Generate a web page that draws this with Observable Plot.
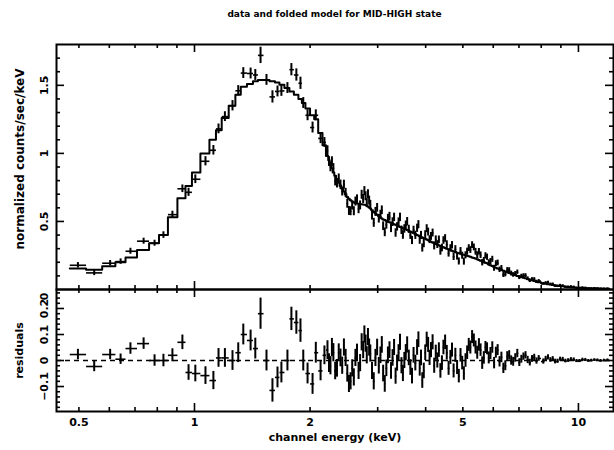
<!DOCTYPE html>
<html><head><meta charset="utf-8">
<script src="https://cdn.jsdelivr.net/npm/d3@7"></script>
<script src="https://cdn.jsdelivr.net/npm/@observablehq/plot@0.6"></script>
<style>
body{margin:0;background:#fff;}
#wrap{position:relative;width:614px;height:450px;font-family:"DejaVu Sans",sans-serif;}
#title{position:absolute;left:56px;width:557px;top:8px;text-align:center;font-weight:bold;font-size:9px;line-height:12px;color:#000;}
#top,#bot{position:absolute;left:0;}
#top{top:0px}
#bot{top:288px}
</style></head><body>
<div id="wrap"><div id="title">data and folded model for MID-HIGH state</div><div id="top"></div><div id="bot"></div></div>
<script>
// channel energies (keV, bin centres)
const energy = [0.497,0.548,0.603,0.642,0.681,0.737,0.787,0.830,0.876,0.930,
 0.965,1.005,1.068,1.120,1.155,1.200,1.256,1.300,1.340,1.400,
 1.440,1.486,1.540,1.596,1.645,1.684,1.746,1.788,1.842,1.888,
 1.920,1.970,2.030,2.070,2.130,2.180,
 2.22,2.24,2.26,2.28,2.30,2.325,2.35,2.375,2.40,2.425,
 2.45,2.475,2.50,2.525,2.55,2.575,2.60,2.625,2.65,2.675,
 2.70,2.725,2.75,2.77,2.79,2.81,2.83,2.85,2.87,2.90,
 2.93,2.96,2.99,3.02,3.05,3.075,3.10,3.13,3.16,3.19,
 3.22,3.25,3.28,3.31,3.34,3.37,3.40,3.43,3.46,3.49,
 3.52,3.55,3.58,3.615,3.65,3.685,3.72,3.76,3.80,3.83,
 3.86,3.89,3.92,3.955,3.99,4.025,4.06,4.095,4.13,4.17,
 4.21,4.25,4.29,4.33,4.37,4.41,4.45,4.495,4.54,4.59,
 4.64,4.685,4.73,4.78,4.83,4.88,4.93,4.98,5.03,5.08,
 5.13,5.18,5.23,5.285,5.34,5.395,5.45,5.505,5.56,5.615,
 5.67,5.725,5.78,5.84,5.90,5.965,6.03,6.095,6.16,6.23,
 6.30,6.375,6.45,6.525,6.60,6.68,6.76,6.845,6.93,7.015,
 7.10,7.19,7.28,7.375,7.47,7.57,7.67,7.775,7.88,
 8.10,8.215,8.33,8.45,8.57,8.695,8.82,8.96,9.10,9.25,
 9.40,9.56,9.72,9.89,10.06,10.24,10.42,10.61,10.80,11.0,
 11.20,11.42,11.65,11.9];
// folded model (normalized counts/sec/keV)
const model = [0.155,0.145,0.170,0.200,0.235,0.290,0.340,0.400,0.530,0.670,
 0.760,0.860,1.000,1.100,1.170,1.260,1.350,1.430,1.490,1.510,
 1.530,1.540,1.540,1.530,1.520,1.505,1.480,1.455,1.430,1.400,
 1.370,1.330,1.280,1.250,1.150,1.060,
 0.980,0.950,0.920,0.890,0.860,0.835,0.810,0.785,0.760,0.740,
 0.720,0.700,0.680,0.667,0.655,0.647,0.640,0.636,0.632,0.630,
 0.628,0.626,0.625,0.623,0.620,0.615,0.610,0.603,0.595,0.583,
 0.570,0.560,0.550,0.540,0.530,0.522,0.515,0.510,0.505,0.500,
 0.495,0.490,0.485,0.480,0.475,0.470,0.465,0.460,0.455,0.450,
 0.445,0.442,0.438,0.432,0.425,0.420,0.415,0.408,0.400,0.396,
 0.392,0.387,0.382,0.377,0.372,0.367,0.362,0.356,0.350,0.345,
 0.340,0.335,0.330,0.325,0.320,0.315,0.310,0.305,0.300,0.295,
 0.290,0.285,0.280,0.275,0.270,0.266,0.262,0.258,0.255,0.251,
 0.248,0.244,0.240,0.236,0.232,0.227,0.222,0.217,0.212,0.207,
 0.202,0.197,0.192,0.185,0.178,0.172,0.166,0.160,0.155,0.150,
 0.144,0.138,0.132,0.127,0.122,0.117,0.112,0.106,0.100,0.096,
 0.092,0.087,0.082,0.077,0.072,0.068,0.063,0.058,0.054,
 0.046,0.042,0.039,0.036,0.033,0.030,0.027,0.025,0.023,0.021,
 0.019,0.017,0.015,0.0135,0.012,0.011,0.010,0.009,0.008,0.0075,
 0.007,0.0065,0.006,0.0055];
// residuals, data minus folded model (normalized counts/sec/keV)
const resid = [0.023,-0.023,0.023,0.005,0.046,0.065,0.000,0.000,0.020,0.070,
 -0.046,-0.050,-0.058,-0.077,0.010,0.010,0.000,0.030,0.100,0.077,
 0.046,0.180,0.000,-0.115,-0.065,-0.046,0.000,0.160,0.146,0.115,
 0.000,-0.050,-0.090,0.030,-0.040,0.020,
 0.040,-0.010,-0.020,0.050,0.030,-0.040,-0.030,0.030,0.010,-0.020,
 0.050,0.010,-0.050,-0.090,-0.080,-0.030,-0.065,0.010,0.030,-0.040,
 -0.010,0.070,0.040,0.100,0.065,0.020,0.090,0.050,0.027,-0.040,
 -0.080,0.010,0.050,-0.020,0.020,0.060,-0.050,-0.090,-0.030,0.020,
 0.040,-0.040,0.010,0.050,-0.060,-0.010,0.030,0.070,-0.020,-0.050,
 0.000,0.030,0.060,0.010,-0.027,-0.060,0.020,-0.010,0.050,0.080,
 -0.030,0.010,-0.077,-0.040,0.030,0.080,0.060,0.010,0.040,0.070,
 -0.020,0.030,0.000,0.040,-0.040,-0.010,0.050,0.070,0.030,-0.030,
 0.012,0.040,-0.040,0.020,-0.027,-0.060,0.020,-0.010,-0.050,0.000,
 0.030,0.060,0.050,0.090,0.077,0.050,0.030,0.060,0.040,-0.010,
 0.010,0.050,0.045,0.010,0.027,0.050,-0.010,0.030,0.040,-0.005,
 0.012,-0.030,-0.020,0.015,0.020,0.000,-0.005,0.010,0.027,-0.008,
 0.005,0.015,0.020,0.002,-0.008,0.006,0.012,-0.002,0.008,
 -0.004,0.006,0.012,0.002,0.006,-0.004,-0.003,0.005,0.004,-0.002,
 0.000,0.004,0.003,-0.002,-0.002,0.003,0.002,-0.001,0.000,0.002,
 0.001,-0.001,0.000,0.001];
// 1-sigma errors
const errors = [0.020,0.020,0.020,0.020,0.022,0.022,0.022,0.024,0.025,0.028,
 0.030,0.032,0.034,0.035,0.036,0.036,0.038,0.038,0.040,0.040,
 0.040,0.060,0.040,0.045,0.040,0.040,0.040,0.045,0.045,0.045,
 0.040,0.040,0.040,0.040,0.038,0.036,
 0.036,0.036,0.035,0.035,0.035,0.034,0.034,0.034,0.034,0.033,
 0.033,0.033,0.033,0.033,0.033,0.033,0.033,0.033,0.033,0.033,
 0.033,0.033,0.033,0.033,0.033,0.033,0.033,0.033,0.033,0.033,
 0.033,0.033,0.032,0.032,0.032,0.032,0.032,0.032,0.032,0.032,
 0.032,0.032,0.032,0.031,0.031,0.031,0.031,0.031,0.031,0.031,
 0.031,0.031,0.031,0.030,0.030,0.030,0.030,0.030,0.030,0.030,
 0.030,0.030,0.030,0.030,0.030,0.029,0.029,0.029,0.029,0.029,
 0.029,0.029,0.029,0.028,0.028,0.028,0.028,0.028,0.028,0.027,
 0.027,0.027,0.027,0.027,0.027,0.026,0.026,0.026,0.026,0.026,
 0.026,0.025,0.025,0.025,0.025,0.025,0.025,0.024,0.024,0.024,
 0.024,0.023,0.023,0.023,0.023,0.022,0.022,0.021,0.021,0.020,
 0.020,0.020,0.019,0.019,0.018,0.018,0.017,0.016,0.016,0.015,
 0.015,0.014,0.014,0.014,0.013,0.013,0.012,0.012,0.011,
 0.010,0.010,0.010,0.009,0.009,0.009,0.008,0.008,0.008,0.007,
 0.007,0.007,0.007,0.006,0.006,0.006,0.006,0.005,0.005,0.005,
 0.005,0.005,0.005,0.005];

const xTickLabels = [0.5, 1, 2, 5, 10];
const xMajor = [1, 10];
const xMinor = [0.5,0.6,0.7,0.8,0.9,2,3,4,5,6,7,8,9];
const yTopLabels = [0.5, 1, 1.5];
const yTopMajor = [0.5, 1, 1.5];
const yTopMinor = [0.1,0.2,0.3,0.4,0.6,0.7,0.8,0.9,1.1,1.2,1.3,1.4,1.6,1.7];
const yResLabels = [-0.1, 0, 0.1, 0.2];
const yResMajor = [-0.1, 0, 0.1, 0.2];
const yResMinor = [-0.18,-0.16,-0.14,-0.12,-0.08,-0.06,-0.04,-0.02,0.02,0.04,0.06,0.08,0.12,0.14,0.16,0.18,0.22,0.24,0.26];

// table: bin edges at geometric midpoints, data = model + residual
const n = energy.length;
const edges = [];
for (let i = 0; i < n - 1; i++) edges.push(Math.sqrt(energy[i] * energy[i + 1]));
const table = energy.map((E, i) => {
  const hi = i < n - 1 ? edges[i] : E * E / edges[i - 1];
  const lo = i > 0 ? edges[i - 1] : E * E / edges[0];
  return {E, lo, hi, m: model[i], r: resid[i], c: model[i] + resid[i], e: errors[i]};
});
const stepData = table.flatMap(d => [{x: d.lo, y: d.m}, {x: d.hi, y: d.m}]);

const xDomain = [0.4371, 12.34];
const plotW = 557; // frame width in px
const decades = Math.log10(xDomain[1] / xDomain[0]);
const font = {fontFamily: "DejaVu Sans", fontWeight: "bold", fill: "black"};
const tk = {stroke: "black", strokeWidth: 1.6};

// inward ticks on all four sides, lengths converted from pixels
function frameTicks(xv, yv, len, yDomain, frameH) {
  const dy = len * (yDomain[1] - yDomain[0]) / frameH;
  const fx = Math.pow(10, len * decades / plotW);
  return [
    Plot.ruleX(xv, {x: d => d, y1: yDomain[0], y2: yDomain[0] + dy, ...tk}),
    Plot.ruleX(xv, {x: d => d, y1: yDomain[1] - dy, y2: yDomain[1], ...tk}),
    Plot.ruleY(yv, {y: d => d, x1: xDomain[0], x2: xDomain[0] * fx, ...tk}),
    Plot.ruleY(yv, {y: d => d, x1: xDomain[1] / fx, x2: xDomain[1], ...tk})
  ];
}

const topY = [0, 1.8];
const topPlot = Plot.plot({
  width: 614, height: 290,
  marginLeft: 56, marginRight: 1, marginTop: 44, marginBottom: 1,
  x: {type: "log", domain: xDomain, axis: null},
  y: {domain: topY, axis: null},
  style: {background: "transparent", overflow: "visible", fontFamily: "DejaVu Sans"},
  marks: [
    ...frameTicks(xMinor, yTopMinor, 4, topY, 245),
    ...frameTicks(xMajor, yTopMajor, 8, topY, 245),
    Plot.line(stepData, {x: "x", y: "y", stroke: "black", strokeWidth: 2}),
    Plot.link(table, {x1: "lo", x2: "hi", y1: "c", y2: "c", stroke: "black", strokeWidth: 1.6}),
    Plot.ruleX(table, {x: "E", y1: d => d.c - d.e, y2: d => d.c + d.e, stroke: "black", strokeWidth: 2}),
    Plot.frame({stroke: "black", strokeWidth: 2}),
    Plot.text(yTopLabels, {y: d => d, text: d => String(d), frameAnchor: "left", textAnchor: "middle", lineAnchor: "middle", dx: -12, rotate: -90, fontSize: 11, ...font}),
    Plot.text([0], {y: d => d, text: d => String(d), frameAnchor: "left", textAnchor: "middle", lineAnchor: "middle", dx: -12, dy: 7, rotate: -90, fontSize: 11, ...font}),
    Plot.text(["normalized counts/sec/keV"], {text: d => d, frameAnchor: "left", textAnchor: "middle", lineAnchor: "middle", dx: -36, dy: -8, rotate: -90, fontSize: 12, ...font})
  ]
});
document.getElementById("top").append(topPlot);

const resY = [-0.196, 0.273];
const botPlot = Plot.plot({
  width: 614, height: 162,
  marginLeft: 56, marginRight: 1, marginTop: 1, marginBottom: 39,
  x: {type: "log", domain: xDomain, axis: null},
  y: {domain: resY, axis: null},
  style: {background: "transparent", overflow: "visible", fontFamily: "DejaVu Sans"},
  marks: [
    ...frameTicks(xMinor, yResMinor, 4, resY, 122),
    ...frameTicks(xMajor, yResMajor, 8, resY, 122),
    Plot.ruleY([0], {stroke: "black", strokeWidth: 1.3, strokeDasharray: "5,4"}),
    Plot.link(table, {x1: "lo", x2: "hi", y1: "r", y2: "r", stroke: "black", strokeWidth: 1.6}),
    Plot.ruleX(table, {x: "E", y1: d => d.r - d.e, y2: d => d.r + d.e, stroke: "black", strokeWidth: 2}),
    Plot.frame({stroke: "black", strokeWidth: 2}),
    Plot.text(yResLabels, {y: d => d, text: d => (d < 0 ? "\u2212" + Math.abs(d) : String(d)), frameAnchor: "left", textAnchor: "middle", lineAnchor: "middle", dx: -12, rotate: -90, fontSize: 11, ...font}),
    Plot.text(["residuals"], {text: d => d, frameAnchor: "left", textAnchor: "middle", lineAnchor: "middle", dx: -37, rotate: -90, fontSize: 11, ...font}),
    Plot.text(xTickLabels, {x: d => d, text: d => String(d), frameAnchor: "bottom", textAnchor: "middle", lineAnchor: "middle", dy: 11, fontSize: 11, ...font}),
    Plot.text(["channel energy (keV)"], {text: d => d, frameAnchor: "bottom", textAnchor: "middle", lineAnchor: "middle", dy: 26, fontSize: 11, ...font})
  ]
});
document.getElementById("bot").append(botPlot);
</script>
</body></html>
